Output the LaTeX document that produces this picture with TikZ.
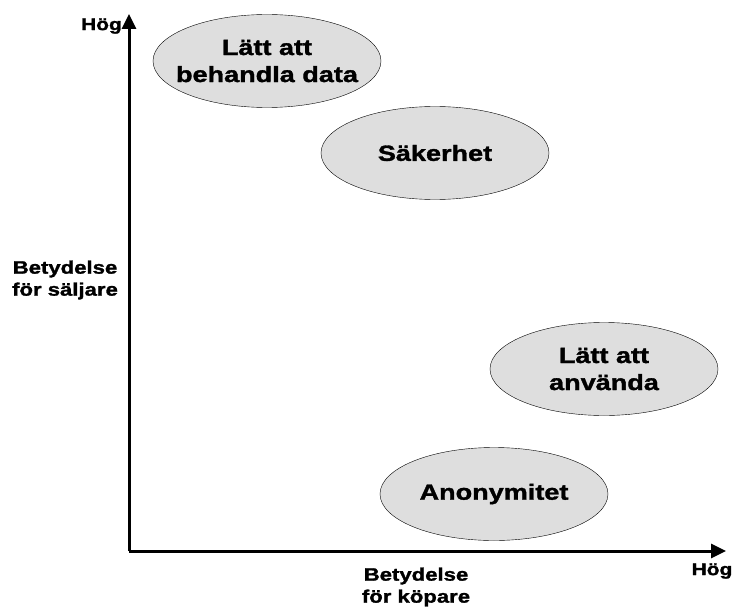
\documentclass[tikz,border=0pt]{standalone}
\usepackage{fontspec}
\setmainfont{Liberation Sans}
\newfontfamily\heavyfont[FakeStretch=1.23, FakeBold=1.5]{Liberation Sans Bold}
\usetikzlibrary{arrows.meta,shapes.geometric}

\begin{document}
\begin{tikzpicture}[x=1pt, y=-1pt, every node/.style={font=\heavyfont},
    topic/.style={ellipse, draw=black, thin, fill=black!13, minimum width=228pt,
      minimum height=93pt, inner xsep=-30pt, inner ysep=0pt, align=center,
      font=\fontsize{22}{27}\selectfont\heavyfont},
    axis/.style={line width=3pt, -{Triangle[length=15pt,width=14pt]}}]
      \useasboundingbox (0,0) rectangle (733,607);

      \coordinate (origin) at (129,551);
      \coordinate (ytop) at (129,14);
      \coordinate (xend) at (726,551);
      \draw[axis] (origin) -- (ytop);
      \draw[axis] (origin) -- (xend);

      \node[font=\fontsize{17}{20}\selectfont\heavyfont, anchor=east, inner sep=2pt] (yhigh) at (124,26) {Hög};
      \node[font=\fontsize{17}{20}\selectfont\heavyfont] (xhigh) at (712,571) {Hög};
      \node[align=center, font=\fontsize{18}{22}\selectfont\heavyfont] (ylabel) at (65,280) {Betydelse\\för säljare};
      \node[align=center, font=\fontsize{18}{22}\selectfont\heavyfont] (xlabel) at (416,587) {Betydelse\\för köpare};

      \node[topic] (data) at (267,61) {Lätt att\\behandla data};
      \node[topic] (safe) at (435,153) {Säkerhet};
      \node[topic] (easy) at (604,369) {Lätt att\\använda};
      \node[topic] (anon) at (494,494) {Anonymitet};
    \end{tikzpicture}
\end{document}
